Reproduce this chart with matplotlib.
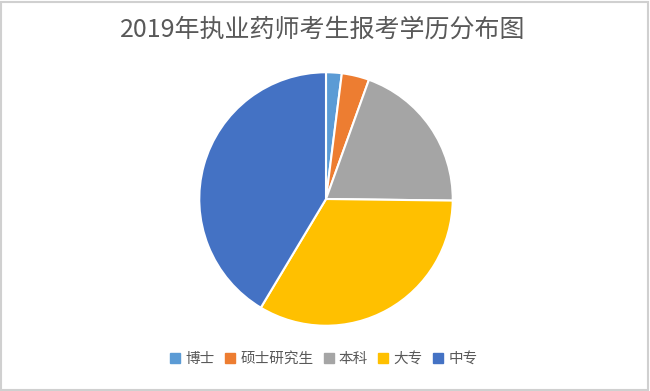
import matplotlib
matplotlib.use("Agg")
import matplotlib.pyplot as plt
from matplotlib.patches import Rectangle

plt.rcParams['font.family'] = ['Noto Sans CJK SC', 'DejaVu Sans']

title = "2019年执业药师考生报考学历分布图"
categories = ["博士", "硕士研究生", "本科", "大专", "中专"]
values = [2.0, 3.5, 19.7, 33.4, 41.4]
colors = ["#5B9BD5", "#ED7D31", "#A5A5A5", "#FFC000", "#4472C4"]

W, H = 650, 391
fig = plt.figure(figsize=(W / 100, H / 100), dpi=100)
fig.patch.set_facecolor("white")

cx, cy, r = 326, 199, 128
ax = fig.add_axes([(cx - r) / W, (H - cy - r) / H, 2 * r / W, 2 * r / H])
wedges, _ = ax.pie(values, colors=colors, startangle=90, counterclock=False,
                   radius=1.0, wedgeprops=dict(edgecolor="white", linewidth=1.5))
ax.set_xlim(-1.01, 1.01)
ax.set_ylim(-1.01, 1.01)
ax.set_aspect("equal")
ax.axis("off")

fig.text(0.497, 1 - 30 / H, title, ha="center", va="center",
         fontsize=18, color="#595959")

handles = [plt.Line2D([], [], marker="s", linestyle="", markersize=6.5,
                      markerfacecolor=c, markeredgecolor=c) for c in colors]
fig.legend(handles, categories, loc="center", bbox_to_anchor=(0.497, 1 - 359 / H),
           ncol=5, frameon=False, fontsize=10.5, handletextpad=0.25,
           columnspacing=0.6, labelcolor="#595959", handlelength=0.9)

fig.patches.append(Rectangle((1 / W, 1 / H), 1 - 3 / W, 1 - 3 / H,
                             transform=fig.transFigure, fill=False,
                             edgecolor="#D0D0D0", linewidth=1.5))

fig.savefig("out.png", dpi=100, facecolor="white")
